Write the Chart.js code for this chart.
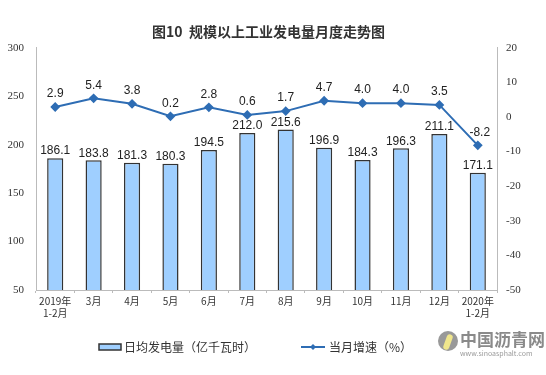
<!DOCTYPE html>
<html>
<head>
<meta charset="utf-8">
<script src="https://cdn.jsdelivr.net/npm/chart.js@4.4.0/dist/chart.umd.min.js"></script>
<style>
  body { margin: 0; background: #fff; }
  #wrap { position: relative; width: 546px; height: 375px; }
  #wm { position: absolute; left: 438px; top: 330px; font-family: "Noto Sans CJK SC"; color: #888; }
  #wm .big { font-size: 17px; font-weight: bold; color: #8a8a8a; line-height: 18px; padding-left: 22px; }
  #wm .small { font-size: 7px; color: #999; padding-left: 22px; }
  #wm .logo { position: absolute; left: 0; top: 1px; width: 20px; height: 20px; border-radius: 50%; background: #999; }
  #wm .logo i { position: absolute; left: 7px; top: 3px; width: 6px; height: 16px; background: #f0e68c; border-radius: 3px; transform: rotate(20deg); }
</style>
</head>
<body>
<div id="wrap">
  <canvas id="mycanvas" width="546" height="375"></canvas>
  <div id="wm"><div class="logo"><i></i></div><div class="big">中国沥青网</div><div class="small">www.sinoasphalt.com</div></div>
</div>
<script>
var months = [["2019年","1-2月"],"3月","4月","5月","6月","7月","8月","9月","10月","11月","12月",["2020年","1-2月"]];
var output = [186.1, 183.8, 181.3, 180.3, 194.5, 212.0, 215.6, 196.9, 184.3, 196.3, 211.1, 171.1];
var growth = [2.9, 5.4, 3.8, 0.2, 2.8, 0.6, 1.7, 4.7, 4.0, 4.0, 3.5, -8.2];

var lineColor = "#2e6db4";

// value labels over bars and points
var labelPlugin = {
	id: "labels",
	afterDatasetsDraw: function(chart) {
		var ctx = chart.ctx;
		ctx.save();
		ctx.fillStyle = "#222";
		ctx.textAlign = "center";
		ctx.textBaseline = "bottom";
		ctx.font = "12px 'Liberation Sans', Arial";
		chart.getDatasetMeta(0).data.forEach(function(bar, i) {
			ctx.fillText(output[i].toFixed(1), bar.x, bar.y - 1);
		});
		chart.getDatasetMeta(1).data.forEach(function(pt, i) {
			ctx.fillText(growth[i].toFixed(1), pt.x + (i == 11 ? 2 : 0), pt.y - 7);
		});
		ctx.restore();
	}
};

// legend below the plot
var legendPlugin = {
	id: "customLegend",
	afterDraw: function(chart) {
		var ctx = chart.ctx;
		var y = 347;
		ctx.save();
		ctx.fillStyle = "#9fcfff";
		ctx.strokeStyle = "#333";
		ctx.lineWidth = 1.5;
		ctx.fillRect(99, y - 3, 22, 6);
		ctx.strokeRect(99, y - 3, 22, 6);
		ctx.fillStyle = "#333";
		ctx.font = "12px 'Noto Sans CJK SC'";
		ctx.textBaseline = "middle";
		ctx.fillText("日均发电量（亿千瓦时）", 124, y);
		ctx.strokeStyle = lineColor;
		ctx.lineWidth = 2;
		ctx.beginPath();
		ctx.moveTo(301, y);
		ctx.lineTo(325, y);
		ctx.stroke();
		ctx.fillStyle = lineColor;
		ctx.beginPath();
		ctx.moveTo(313, y - 3); ctx.lineTo(316, y); ctx.lineTo(313, y + 3); ctx.lineTo(310, y);
		ctx.closePath();
		ctx.fill();
		ctx.fillStyle = "#333";
		ctx.fillText("当月增速（%）", 329, y);
		ctx.restore();
	}
};

var chartdata = {
	labels: months,
	datasets: [
		{
			type: "bar",
			label: "日均发电量（亿千瓦时）",
			data: output,
			yAxisID: "y",
			backgroundColor: "#9fcfff",
			borderColor: "#333",
			borderWidth: 1.5,
			barPercentage: 0.42,
			categoryPercentage: 1,
			order: 1
		},
		{
			type: "line",
			label: "当月增速（%）",
			data: growth,
			yAxisID: "y1",
			borderColor: lineColor,
			backgroundColor: lineColor,
			borderWidth: 2,
			pointStyle: "rectRot",
			pointRadius: 3.5,
			lineTension: 0,
			order: 0
		}
	]
};

var tickFont = { family: "'Liberation Serif', 'Times New Roman'", size: 11 };

var ctx = document.getElementById("mycanvas");
var chart = new Chart(ctx, {
	data: chartdata,
	plugins: [labelPlugin, legendPlugin],
	options: {
		responsive: false,
		animation: false,
		layout: { padding: { top: 0, right: 9, bottom: 54, left: 0 } },
		plugins: {
			legend: { display: false },
			tooltip: { enabled: false },
			title: {
				display: true,
				text: "图10  规模以上工业发电量月度走势图",
				color: "#333",
				font: { family: "'Noto Sans CJK SC'", size: 14, weight: "bold" },
				padding: { top: 23, bottom: 8 }
			}
		},
		scales: {
			x: {
				offset: true,
				grid: { display: true, drawOnChartArea: false, offset: true, tickLength: 3, color: "#bbb" },
				border: { color: "#bbb" },
				ticks: { color: "#333", font: { family: "'Noto Sans CJK SC'", size: 10 }, maxRotation: 0, autoSkip: false, padding: 2 }
			},
			y: {
				position: "left",
				min: 50,
				max: 300,
				afterFit: function(s) { s.width = 36; },
				grid: { display: true, drawOnChartArea: false, drawTicks: false, color: "#bbb" },
				border: { color: "#bbb" },
				ticks: { stepSize: 50, color: "#333", font: tickFont, padding: 12 }
			},
			y1: {
				position: "right",
				min: -50,
				max: 20,
				afterFit: function(s) { s.width = 40; },
				grid: { display: true, drawOnChartArea: false, drawTicks: false, color: "#bbb" },
				border: { color: "#bbb" },
				ticks: { stepSize: 10, color: "#333", font: tickFont, padding: 9 }
			}
		}
	}
});
</script>
</body>
</html>
